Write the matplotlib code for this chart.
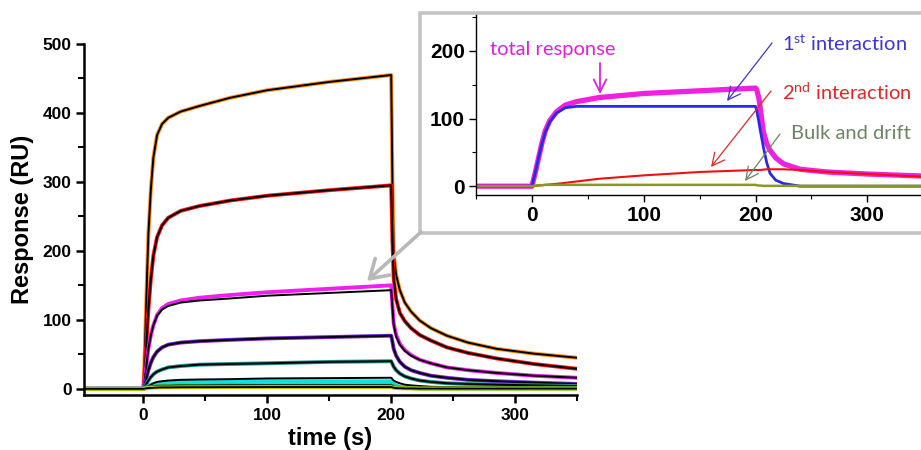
import matplotlib
matplotlib.use('Agg')
import matplotlib.pyplot as plt
from matplotlib.patches import Rectangle, FancyArrowPatch
from matplotlib.ticker import MultipleLocator

plt.rcParams['font.family'] = ['Liberation Sans', 'DejaVu Sans']
plt.rcParams['mathtext.fontset'] = 'custom'
plt.rcParams['mathtext.rm'] = 'Lato'

# main sensorgrams: time (s) and response (RU)
t_main = [-50, 0, 1, 2, 3, 4, 6, 8, 11, 15, 20, 30, 45, 70, 100, 150, 200,
          201, 202, 204, 207, 211, 216, 223, 232, 245, 262, 285, 315, 350]
orange = [0, 0, 50, 110, 170, 225, 290, 335, 368, 384, 393, 402, 410, 422, 433, 445, 455,
          300, 195, 165, 143, 125, 112, 99, 88, 77, 67, 58, 51, 45]
red = [0, 0, 25, 55, 85, 115, 160, 193, 220, 237, 248, 258, 265, 273, 280, 288, 295,
       215, 160, 130, 110, 98, 88, 78, 70, 60, 52, 44, 36, 29]
magenta = [0, 0, 12, 28, 44, 58, 78, 92, 107, 117, 123, 128, 132, 136, 140, 145, 150,
           120, 95, 78, 65, 56, 49, 42, 37, 31, 27, 23, 19, 16]
magenta_fit = [0, 0, 12, 28, 44, 58, 78, 92, 106, 115, 120, 125, 128, 131, 135, 139, 143,
               118, 93, 76, 64, 55, 48, 42, 37, 31, 27, 23, 19, 16]
purple = [0, 0, 6, 13, 20, 27, 38, 46, 54, 60, 64, 67, 69, 71, 73, 75, 77,
          68, 58, 48, 39, 32, 27, 23, 19, 16, 13, 11, 9, 7]
teal = [0, 0, 3, 6, 9, 12, 17, 21, 25, 28, 31, 33, 35, 36, 37, 39, 40,
        36, 32, 27, 22, 18, 15, 12, 10, 8, 7, 6, 5, 4]
cyan = [0, 0, 1, 2, 3, 4, 6, 7, 8, 9, 9.5, 10, 10, 10.5, 11, 11, 11,
        9, 7, 5, 3, 2, 1, 0.5, 0.5, 0.5, 0.5, 0.5, 0.5, 0.5]
cyan_fit = [0, 0, 1, 2, 3, 4, 6, 8, 10, 11, 12, 13, 13.5, 14, 15, 15.5, 16,
            14, 12, 10, 8, 6, 5, 4, 3, 2.5, 2, 2, 1.5, 1.5]
green = [0, 0, 0.5, 1, 1.5, 2, 2.5, 3, 3.5, 4, 4, 4.5, 4.5, 5, 5, 5, 5,
         4, 3, 2, 1.5, 1, 1, 0.5, 0.5, 0.5, 0.5, 0.5, 0.5, 0.5]
yellow = [0, 0, 0.3, 0.6, 0.9, 1, 1.3, 1.5, 1.8, 2, 2, 2.2, 2.3, 2.4, 2.5, 2.5, 2.5,
          2, 1.5, 1, 0.8, 0.5, 0.5, 0.3, 0.3, 0.3, 0.3, 0.3, 0.3, 0.3]

series = [
    (orange, orange, '#ff8c1a'),
    (red, red, '#ff1010'),
    (magenta, magenta_fit, '#f01ef0'),
    (purple, purple, '#7a22d8'),
    (teal, teal, '#1a9494'),
    (cyan, cyan_fit, '#10e0e0'),
    (green, green, '#2a9a2a'),
    (yellow, yellow, '#c8d000'),
]

# inset: decomposition of the magenta curve
t_in = [-50, 0, 3, 6, 9, 12, 16, 22, 30, 40, 60, 100, 150, 200,
        201, 203, 204, 207, 210, 213, 218, 225, 240, 264, 300, 350]
total = [0, 0, 20, 42, 64, 82, 97, 110, 120, 125, 131, 137, 141, 145,
         143, 130, 118, 80, 63, 53, 42, 33, 25, 21, 18, 15]
first = [0, 0, 20, 42, 63, 80, 95, 108, 116, 118, 118, 118, 118, 118,
         112, 95, 85, 58, 35, 19, 9, 4, 0, 0, 0, 0]
second = [0, 0, 0.4, 0.9, 1.4, 2, 2.6, 3.5, 5, 7, 11, 16, 21, 24,
          24, 24, 24, 24.5, 25, 25, 25, 25, 24, 21, 18, 14]
bulk = [0, 0, 1, 1.5, 1.5, 2, 2, 2, 2, 2, 2, 2, 2, 2,
        1.5, 1, 1, 0.5, 0.5, 0.5, 0.5, 0.5, 0.5, 0.5, 0.5, 0.5]

W, H = 921, 450


def fpx(x, y):
    return (x / W, 1 - y / H)


def arrow(p0, p1, col, lw, hl, hw, scale, z):
    fig.add_artist(FancyArrowPatch(
        fpx(*p0), fpx(*p1), transform=fig.transFigure,
        arrowstyle=f'->,head_length={hl},head_width={hw}', color=col,
        lw=lw, mutation_scale=scale, shrinkA=0, shrinkB=0, zorder=z))


fig = plt.figure(figsize=(W / 100, H / 100), dpi=100)

ax = fig.add_axes([84 / W, 1 - 395 / H, 493 / W, 351 / H], zorder=1)
for data, fit, col in series:
    ax.plot(t_main, data, color=col, lw=2.8, solid_joinstyle='round')
    ax.plot(t_main, fit, color='black', lw=1.4, solid_joinstyle='round')
ax.set_xlim(-48, 350)
ax.set_ylim(-9, 500)
for s in ['top', 'right']:
    ax.spines[s].set_visible(False)
for s in ['left', 'bottom']:
    ax.spines[s].set_linewidth(1.8)
ax.xaxis.set_major_locator(MultipleLocator(100))
ax.xaxis.set_minor_locator(MultipleLocator(50))
ax.yaxis.set_major_locator(MultipleLocator(100))
ax.yaxis.set_minor_locator(MultipleLocator(50))
ax.tick_params(which='major', length=6, width=1.8, pad=3,
               labelsize=12.5)
ax.tick_params(which='minor', length=4, width=1.5)
for lab in ax.get_xticklabels() + ax.get_yticklabels():
    lab.set_fontweight('bold')
ax.set_xlabel('time (s)', fontsize=17, fontweight='bold', labelpad=3)
ax.set_ylabel('Response (RU)', fontsize=17, fontweight='bold', labelpad=6)

# grey frame round the inset, with its pointer to the magenta curve
box = Rectangle(fpx(420, 233), 520 / W, 220 / H, transform=fig.transFigure,
                facecolor='white', edgecolor='#c4c4c4', lw=2.6, zorder=2)
fig.add_artist(box)
arrow((421, 232), (367, 281), '#b8b8b8', 2.6, 0.8, 0.5, 16, 4)

ins = fig.add_axes([476 / W, 1 - 195 / H, 445 / W, 180 / H], zorder=3)
ins.patch.set_alpha(0)
ins.plot(t_in, total, color='#f020e0', lw=3.8)
ins.plot(t_in, first, color='#2a2ae0', lw=2.0)
ins.plot(t_in, second, color='#f01010', lw=1.5)
ins.plot(t_in, bulk, color='#8a9a20', lw=1.8)
ins.set_xlim(-50, 348)
ins.set_ylim(-13, 253)
for s in ['top', 'right']:
    ins.spines[s].set_visible(False)
for s in ['left', 'bottom']:
    ins.spines[s].set_linewidth(1.0)
ins.xaxis.set_major_locator(MultipleLocator(100))
ins.xaxis.set_minor_locator(MultipleLocator(50))
ins.yaxis.set_major_locator(MultipleLocator(100))
ins.yaxis.set_minor_locator(MultipleLocator(50))
ins.tick_params(which='major', length=5, width=1.0, pad=3, labelsize=15)
ins.tick_params(which='minor', length=3, width=0.8)
for lab in ins.get_xticklabels() + ins.get_yticklabels():
    lab.set_fontweight('bold')

labels = [
    ('total response', '#e020d8', (490, 50), (600, 63), (600, 94), 1.3),
    (r'1$^{\mathrm{st}}$ interaction', '#3a36d0', (782, 44), (772, 43), (727, 101), 0.9),
    (r'2$^{\mathrm{nd}}$ interaction', '#e02828', (782, 92), (771, 91), (711, 167), 0.9),
    ('Bulk and drift', '#6c8460', (791, 134), (780, 134), (745, 181), 0.9),
]
for txt, col, tpos, a0, a1, lw in labels:
    fig.text(*fpx(*tpos), txt, color=col, fontsize=14.5, family=['Lato', 'DejaVu Sans'],
             ha='left', va='center', zorder=5)
    arrow(a0, a1, col, lw, 0.9, 0.45, 10, 5)

fig.savefig('out.png', dpi=100)
